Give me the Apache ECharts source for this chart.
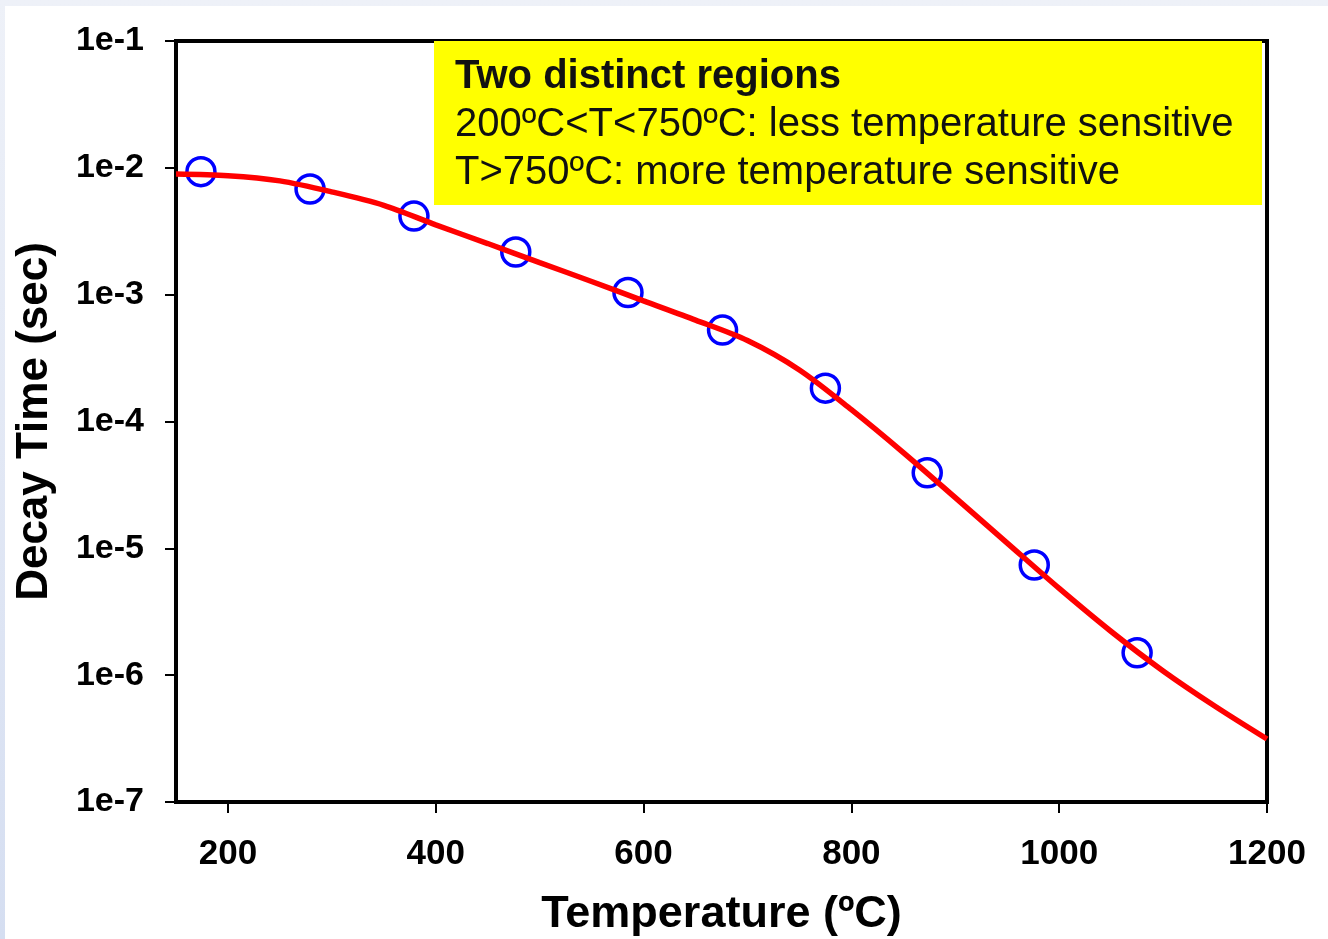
<!DOCTYPE html>
<html>
<head>
<meta charset="utf-8">
<script src="https://cdn.jsdelivr.net/npm/echarts@6/dist/echarts.min.js"></script>
<style>
  html, body { margin: 0; padding: 0; }
  #bg { position: absolute; left: 0; top: 0; width: 1328px; height: 939px;
        background: linear-gradient(to bottom, #eef1f8, #d5def1); }
  #white { position: absolute; left: 5px; top: 6px; width: 1323px; height: 933px; background: #ffffff; }
  #chart { position: absolute; left: 0; top: 0; width: 1328px; height: 939px; }
</style>
</head>
<body>
<div id="bg"></div>
<div id="white"></div>
<div id="chart"></div>
<script>
// Measured data points (temperature in ºC, decay time in sec)
const pointTemps = [174, 279, 379, 477, 585, 676, 775, 873, 976, 1075];
const pointDecay = [9.33e-3, 6.81e-3, 4.17e-3, 2.17e-3, 1.04e-3, 5.26e-4, 1.83e-4, 3.94e-5, 7.39e-6, 1.50e-6];

// Fitted curve
const curveTemps = [150, 200, 250, 300, 350, 400, 450, 500, 550, 600, 650, 700, 750, 800, 850, 900, 950, 1000, 1050, 1100, 1150, 1200];
const curveDecay = [8.93e-3, 8.67e-3, 7.89e-3, 6.46e-3, 5.06e-3, 3.55e-3, 2.53e-3, 1.79e-3, 1.27e-3, 8.93e-4, 6.30e-4, 4.35e-4, 2.55e-4, 1.24e-4, 5.69e-5, 2.51e-5, 1.10e-5, 4.83e-6, 2.21e-6, 1.08e-6, 5.69e-7, 3.14e-7];

// Tick labels
const xTicks = [200, 400, 600, 800, 1000, 1200];
const yTicks = [1e-7, 1e-6, 1e-5, 1e-4, 1e-3, 1e-2, 1e-1];
const yTickLabels = ['1e-7', '1e-6', '1e-5', '1e-4', '1e-3', '1e-2', '1e-1'];

// Annotation text
const noteTitle = 'Two distinct regions';
const noteLines = ['200ºC<T<750ºC: less temperature sensitive', 'T>750ºC: more temperature sensitive'];

const FONT = "'Liberation Sans', Arial, sans-serif";
const chart = echarts.init(document.getElementById('chart'));

const option = {
  backgroundColor: 'transparent',
  animation: false,
  grid: {
    left: 176, right: 61, top: 41, bottom: 137,
    containLabel: false, outerBoundsMode: 'none',
    show: true, borderColor: '#000', borderWidth: 4, backgroundColor: 'transparent'
  },
  xAxis: {
    type: 'value', min: 150, max: 1200,
    name: 'Temperature (ºC)', nameLocation: 'middle', nameGap: 90,
    nameTextStyle: { fontFamily: FONT, fontSize: 45, fontWeight: 'bold', color: '#000' },
    axisLine: { show: true, lineStyle: { color: '#000', width: 4 } },
    axisTick: { show: true, customValues: xTicks, length: 11, lineStyle: { color: '#000', width: 2 } },
    axisLabel: {
      customValues: xTicks, fontFamily: FONT, fontSize: 35, fontWeight: 'bold', color: '#000', margin: 35,
      formatter: function (v) { return String(v); }
    },
    splitLine: { show: false }
  },
  yAxis: {
    type: 'log', logBase: 10, min: 1e-7, max: 1e-1,
    name: 'Decay Time (sec)', nameLocation: 'middle', nameGap: 119,
    nameTextStyle: { fontFamily: FONT, fontSize: 44, fontWeight: 'bold', color: '#000' },
    axisLine: { show: true, lineStyle: { color: '#000', width: 4 } },
    axisTick: { show: true, length: 11, lineStyle: { color: '#000', width: 2 } },
    axisLabel: {
      fontFamily: FONT, fontSize: 34, fontWeight: 'bold', color: '#000', margin: 32,
      formatter: function (v) {
        for (let i = 0; i < yTicks.length; i++) {
          if (Math.abs(Math.log10(v) - Math.log10(yTicks[i])) < 1e-6) return yTickLabels[i];
        }
        return '';
      }
    },
    minorTick: { show: false },
    splitLine: { show: false }
  },
  graphic: [
    { type: 'rect', z: 100, shape: { x: 434, y: 41, width: 828, height: 164 }, style: { fill: '#ffff00' } },
    { type: 'text', z: 101, x: 455, y: 77, style: { text: noteTitle, fontFamily: FONT, fontSize: 40, fontWeight: 'bold', fill: '#111', verticalAlign: 'middle' } },
    { type: 'text', z: 101, x: 455, y: 125, style: { text: noteLines[0], fontFamily: FONT, fontSize: 40, fill: '#111', verticalAlign: 'middle' } },
    { type: 'text', z: 101, x: 455, y: 173, style: { text: noteLines[1], fontFamily: FONT, fontSize: 40, fill: '#111', verticalAlign: 'middle' } }
  ],
  series: [
    {
      type: 'scatter', z: 2,
      data: pointTemps.map((t, i) => [t, pointDecay[i]]),
      symbol: 'circle', symbolSize: 28,
      itemStyle: { color: 'rgba(0,0,0,0)', borderColor: '#0000ff', borderWidth: 3.5, opacity: 1 }
    },
    {
      type: 'line', z: 3,
      data: curveTemps.map((t, i) => [t, curveDecay[i]]),
      smooth: 0.3, showSymbol: false, symbol: 'none',
      lineStyle: { color: '#ff0000', width: 5.5 }
    }
  ]
};
chart.setOption(option);
</script>
</body>
</html>
